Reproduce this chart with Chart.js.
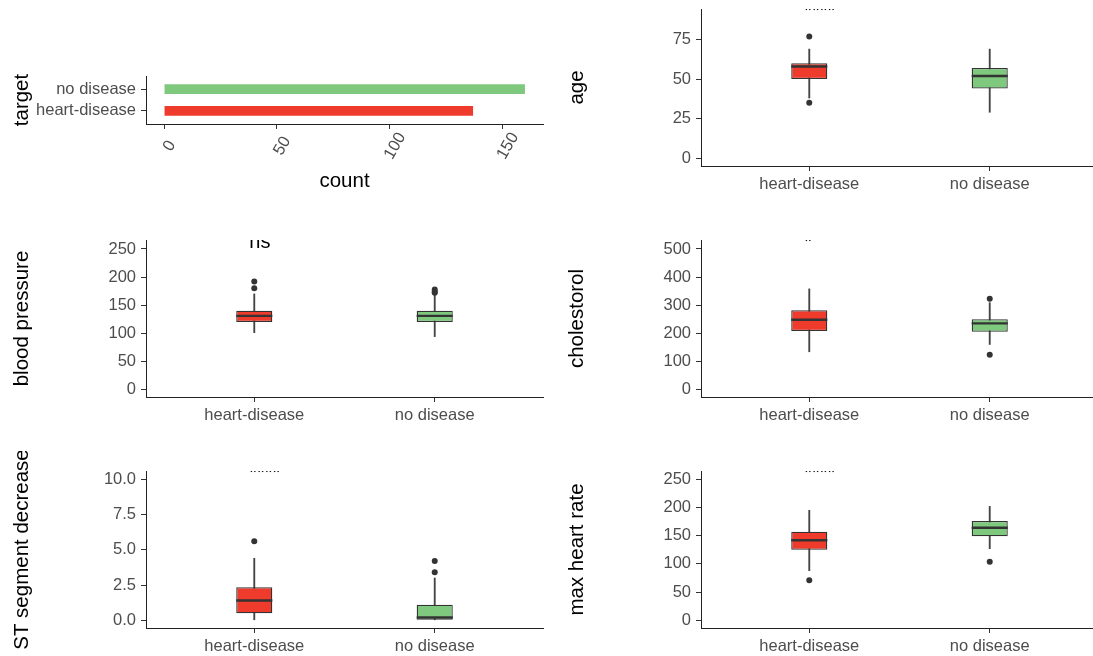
<!DOCTYPE html>
<html>
<head>
<meta charset="utf-8">
<script src="https://cdn.jsdelivr.net/npm/chart.js@4/dist/chart.umd.min.js"></script>
<style>
  html, body { margin: 0; padding: 0; background: #fff; }
  body { width: 1093px; height: 656px; position: relative; overflow: hidden; }
  canvas { position: absolute; }
</style>
</head>
<body>
<canvas id="cTarget" width="548" height="138" style="left:0px;top:56px"></canvas>
<canvas id="cAge" width="548" height="217" style="left:555px;top:-11px"></canvas>
<canvas id="cBp" width="548" height="217" style="left:0px;top:220px"></canvas>
<canvas id="cChol" width="548" height="217" style="left:555px;top:220px"></canvas>
<canvas id="cSt" width="548" height="217" style="left:0px;top:451px"></canvas>
<canvas id="cHr" width="548" height="217" style="left:555px;top:451px"></canvas>
<script>
// ---- data ----
const groups = ['heart-disease', 'no disease'];
const groupColors = ['#EF3B2C', '#7FC97F'];

const targetCounts = [137, 160];
const countTicks = [0, 50, 100, 150];

// box rows: [lower whisker, Q1, median, Q3, upper whisker] per group
const ageBoxes = [[38, 50, 58, 60, 69], [29, 44, 52, 57, 69]];
const ageOutliers = [[77, 35], []];
const ageTicks = [0, 25, 50, 75];
const ageTickLabels = ['0', '25', '50', '75'];

const bpBoxes = [[101, 120, 131, 140, 170], [94, 120, 131, 140, 170]];
const bpOutliers = [[180, 192], [172, 174, 178]];
const bpTicks = [0, 50, 100, 150, 200, 250];
const bpTickLabels = ['0', '50', '100', '150', '200', '250'];

const cholBoxes = [[134, 208, 248, 282, 358], [160, 205, 235, 250, 309]];
const cholOutliers = [[], [323, 123]];
const cholTicks = [0, 100, 200, 300, 400, 500];
const cholTickLabels = ['0', '100', '200', '300', '400', '500'];

const stBoxes = [[0, 0.5, 1.4, 2.35, 4.4], [0, 0, 0.2, 1.1, 3.0]];
const stOutliers = [[5.6], [3.4, 4.2]];
const stTicks = [0, 2.5, 5, 7.5, 10];
const stTickLabels = ['0.0', '2.5', '5.0', '7.5', '10.0'];

const hrBoxes = [[88, 125, 142, 157, 195], [127, 149, 164, 176, 202]];
const hrOutliers = [[71], [104]];
const hrTicks = [0, 50, 100, 150, 200, 250];
const hrTickLabels = ['0', '50', '100', '150', '200', '250'];

// significance marks and the value they sit at (drawn clipped to the panel)
const sigLabels = ['****', 'ns', '*', '****', '****'];
const sigValues = [89.3, 251, 503.5, 10.02, 250.6];

// ---- styling ----
const FONT = "'Liberation Sans', Arial, Helvetica, sans-serif";
Chart.defaults.font.family = FONT;
Chart.defaults.animation = false;

const TICK_FONT = { family: FONT, size: 16.5 };
const TITLE_FONT = { family: FONT, size: 20.5 };
const TICK_COLOR = '#4D4D4D';
const LINE_COLOR = '#333333';
const AXIS_WIDTH = 146;

const gridStyle = { display: true, drawOnChartArea: false, drawTicks: true, tickLength: 5, color: LINE_COLOR, lineWidth: 1, offset: false };
const borderStyle = { display: true, color: '#222222', width: 1 };

function fixedTicks(values) {
  return (scale) => { scale.ticks = values.map(v => ({ value: v })); };
}

const basePlugins = { legend: { display: false }, tooltip: { enabled: false } };

// ---- count bar chart ----
const countLabels = {
  id: 'countLabels',
  afterDraw(chart) {
    const x = chart.scales.x;
    const ctx = chart.ctx;
    ctx.save();
    ctx.fillStyle = TICK_COLOR;
    ctx.font = TICK_FONT.size + 'px ' + FONT;
    ctx.textAlign = 'center';
    ctx.textBaseline = 'middle';
    countTicks.forEach(v => {
      ctx.save();
      ctx.translate(x.getPixelForValue(v) + 5.5, chart.chartArea.bottom + 22);
      ctx.rotate(-Math.PI / 3);
      ctx.fillText(String(v), 0, 0);
      ctx.restore();
    });
    ctx.restore();
  }
};

new Chart(document.getElementById('cTarget'), {
  type: 'bar',
  data: {
    datasets: [{
      data: targetCounts.map((c, i) => ({ x: c, y: i })),
      backgroundColor: groupColors,
      barPercentage: 0.45,
      categoryPercentage: 1
    }]
  },
  options: {
    indexAxis: 'y',
    responsive: false,
    layout: { padding: { top: 20, right: 5, left: 0, bottom: 0 } },
    plugins: basePlugins,
    scales: {
      y: {
        type: 'linear', offset: false, min: -0.6, max: 1.6,
        afterBuildTicks: fixedTicks([0, 1]),
        afterFit: s => { s.width = AXIS_WIDTH; },
        ticks: { callback: v => groups[v], font: TICK_FONT, color: TICK_COLOR, padding: 5 },
        grid: gridStyle, border: borderStyle,
        title: { display: true, text: 'target', font: TITLE_FONT, color: '#000', padding: { top: 9.7, bottom: 0 } }
      },
      x: {
        type: 'linear', offset: false, min: -8, max: 168,
        afterBuildTicks: fixedTicks(countTicks),
        afterFit: s => { s.height = 70; },
        ticks: { display: false },
        grid: gridStyle, border: borderStyle,
        title: { display: true, text: 'count', font: TITLE_FONT, color: '#000', padding: { top: 0, bottom: 0 } }
      }
    }
  },
  plugins: [countLabels]
});

// ---- box plot panels ----
function boxPanel(id, yTitle, boxes, outliers, ticks, tickLabels, yMin, yMax, sigText, sigValue) {
  const extras = {
    id: 'boxExtras',
    afterDatasetsDraw(chart) {
      const meta = chart.getDatasetMeta(1);
      const y = chart.scales.y;
      const ctx = chart.ctx;
      ctx.save();
      ctx.strokeStyle = LINE_COLOR;
      ctx.lineWidth = 2.4;
      meta.data.forEach((bar, i) => {
        const py = y.getPixelForValue(boxes[i][2]);
        ctx.beginPath();
        ctx.moveTo(bar.x - bar.width / 2, py);
        ctx.lineTo(bar.x + bar.width / 2, py);
        ctx.stroke();
      });
      const a = chart.chartArea;
      ctx.beginPath();
      ctx.rect(a.left, a.top, a.right - a.left, a.bottom - a.top);
      ctx.clip();
      ctx.fillStyle = '#000';
      ctx.font = '20px ' + FONT;
      ctx.textAlign = 'left';
      ctx.textBaseline = 'alphabetic';
      ctx.fillText(sigText, chart.scales.x.getPixelForValue(0) - 5, y.getPixelForValue(sigValue));
      ctx.restore();
    }
  };

  new Chart(document.getElementById(id), {
    type: 'bar',
    data: {
      datasets: [
        {
          // whiskers
          data: boxes.map((b, i) => ({ x: i, y: [b[0], b[4]] })),
          backgroundColor: '#444444',
          barThickness: 1.2,
          grouped: false,
          order: 3
        },
        {
          // interquartile boxes
          data: boxes.map((b, i) => ({ x: i, y: [b[1], b[3]] })),
          backgroundColor: groupColors,
          borderColor: LINE_COLOR,
          borderWidth: 1.3,
          borderSkipped: false,
          barPercentage: 0.2,
          categoryPercentage: 1,
          grouped: false,
          order: 2
        },
        {
          // outliers
          type: 'scatter',
          data: outliers.flatMap((o, i) => o.map(v => ({ x: i, y: v }))),
          pointRadius: 3,
          pointHoverRadius: 3,
          backgroundColor: LINE_COLOR,
          borderWidth: 0,
          order: 1
        }
      ]
    },
    options: {
      responsive: false,
      layout: { padding: { top: 20, right: 5, left: 0, bottom: 0 } },
      plugins: basePlugins,
      scales: {
        x: {
          type: 'linear', offset: false, min: -0.6, max: 1.6,
          afterBuildTicks: fixedTicks([0, 1]),
          afterFit: s => { s.height = 40; },
          ticks: { callback: v => groups[v], font: TICK_FONT, color: TICK_COLOR, padding: 3.5, maxRotation: 0, autoSkip: false },
          grid: gridStyle, border: borderStyle
        },
        y: {
          type: 'linear', min: yMin, max: yMax,
          afterBuildTicks: fixedTicks(ticks),
          afterFit: s => { s.width = AXIS_WIDTH; },
          ticks: { callback: (v, i) => tickLabels[i], font: TICK_FONT, color: TICK_COLOR, padding: 5, autoSkip: false },
          grid: gridStyle, border: borderStyle,
          title: { display: true, text: yTitle, font: TITLE_FONT, color: '#000', padding: { top: 9.7, bottom: 0 } }
        }
      }
    },
    plugins: [extras]
  });
}

boxPanel('cAge', 'age', ageBoxes, ageOutliers, ageTicks, ageTickLabels, -5.05, 94.4, sigLabels[0], sigValues[0]);
boxPanel('cBp', 'blood pressure', bpBoxes, bpOutliers, bpTicks, bpTickLabels, -13.5, 266, sigLabels[1], sigValues[1]);
boxPanel('cChol', 'cholestorol', cholBoxes, cholOutliers, cholTicks, cholTickLabels, -27, 532, sigLabels[2], sigValues[2]);
boxPanel('cSt', 'ST segment decrease', stBoxes, stOutliers, stTicks, stTickLabels, -0.546, 10.59, sigLabels[3], sigValues[3]);
boxPanel('cHr', 'max heart rate', hrBoxes, hrOutliers, hrTicks, hrTickLabels, -13.65, 264.75, sigLabels[4], sigValues[4]);
</script>
</body>
</html>
